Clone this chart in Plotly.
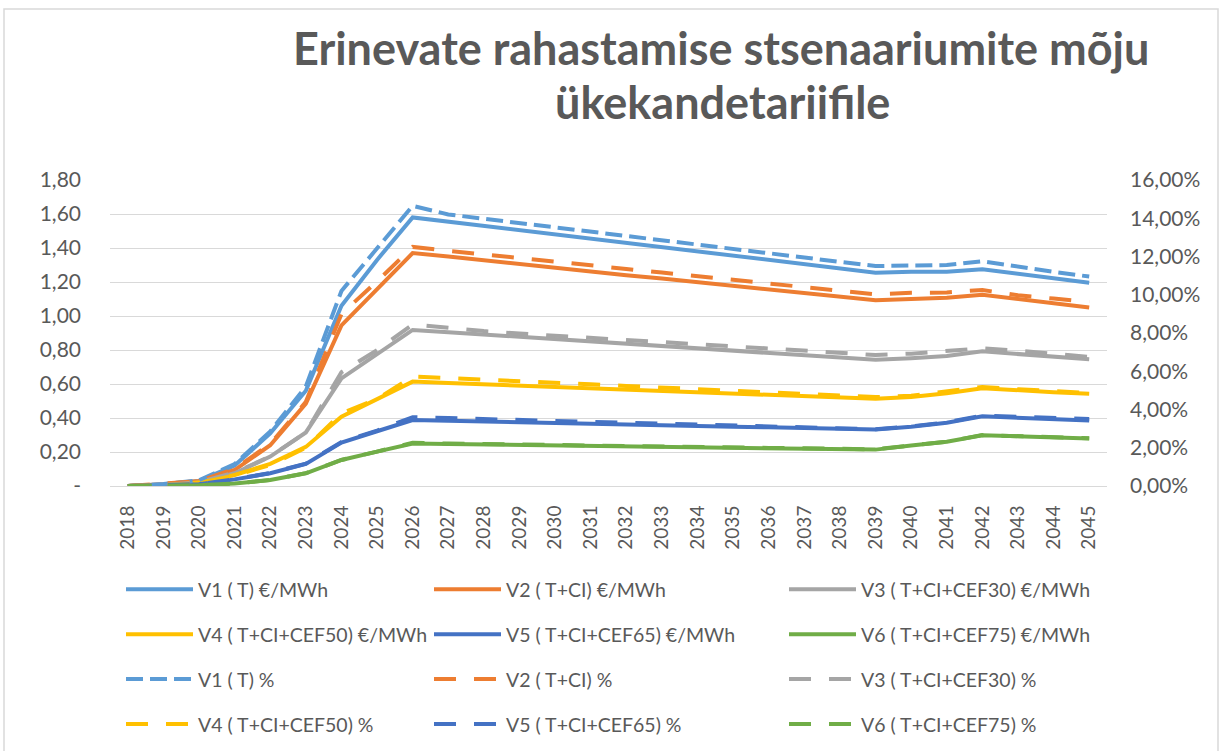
import plotly.graph_objects as go

years = [str(y) for y in range(2018, 2046)]

v1_eur = [0.00, 0.01, 0.03, 0.12, 0.31, 0.56, 1.06, 1.33, 1.58, 1.555, 1.53, 1.50, 1.48, 1.455,
          1.43, 1.40, 1.375, 1.35, 1.325, 1.30, 1.275, 1.255, 1.26, 1.26, 1.275, 1.25, 1.225, 1.195]
v2_eur = [0.00, 0.01, 0.03, 0.094, 0.24, 0.485, 0.945, 1.155, 1.37, 1.35, 1.327, 1.305, 1.285, 1.263,
          1.24, 1.22, 1.198, 1.177, 1.155, 1.133, 1.112, 1.092, 1.10, 1.108, 1.125, 1.10, 1.075, 1.05]
v3_eur = [0.00, 0.005, 0.02, 0.075, 0.173, 0.315, 0.633, 0.775, 0.918, 0.905, 0.891, 0.878, 0.864, 0.851,
          0.837, 0.823, 0.81, 0.796, 0.783, 0.77, 0.756, 0.742, 0.752, 0.765, 0.792, 0.778, 0.762, 0.745]
v4_eur = [0.00, 0.005, 0.02, 0.065, 0.13, 0.23, 0.408, 0.51, 0.614, 0.606, 0.598, 0.591, 0.583, 0.575,
          0.568, 0.56, 0.552, 0.544, 0.536, 0.528, 0.521, 0.513, 0.523, 0.545, 0.575, 0.562, 0.552, 0.542]
v5_eur = [0.00, 0.003, 0.01, 0.039, 0.075, 0.13, 0.255, 0.322, 0.388, 0.384, 0.379, 0.375, 0.371, 0.367,
          0.362, 0.358, 0.353, 0.349, 0.345, 0.341, 0.336, 0.332, 0.348, 0.372, 0.41, 0.403, 0.393, 0.385]
v6_eur = [0.00, 0.002, 0.005, 0.015, 0.035, 0.075, 0.153, 0.202, 0.25, 0.247, 0.244, 0.241, 0.239, 0.236,
          0.233, 0.23, 0.227, 0.225, 0.222, 0.219, 0.216, 0.214, 0.238, 0.26, 0.298, 0.293, 0.287, 0.28]

v1_pct = [0.0, 0.1, 0.3, 1.15, 2.85, 5.2, 10.2, 12.4, 14.65, 14.2, 13.97, 13.75, 13.52, 13.3,
          13.07, 12.85, 12.62, 12.4, 12.17, 11.95, 11.72, 11.5, 11.55, 11.55, 11.75, 11.45, 11.2, 10.95]
v2_pct = [0.0, 0.1, 0.25, 0.9, 2.2, 4.4, 9.0, 10.7, 12.5, 12.3, 12.1, 11.92, 11.73, 11.54,
          11.35, 11.16, 10.97, 10.78, 10.59, 10.4, 10.21, 10.02, 10.1, 10.12, 10.25, 9.97, 9.8, 9.63]
v3_pct = [0.0, 0.05, 0.2, 0.7, 1.55, 2.8, 5.95, 7.1, 8.45, 8.25, 8.1, 7.97, 7.85, 7.74,
          7.63, 7.52, 7.41, 7.3, 7.19, 7.08, 6.96, 6.85, 6.92, 7.05, 7.2, 7.08, 6.9, 6.75]
v4_pct = [0.0, 0.04, 0.15, 0.55, 1.1, 2.0, 3.8, 4.55, 5.72, 5.65, 5.56, 5.48, 5.4, 5.32,
          5.23, 5.15, 5.07, 4.98, 4.9, 4.82, 4.73, 4.65, 4.72, 4.93, 5.18, 5.06, 4.98, 4.86]
v5_pct = [0.0, 0.03, 0.1, 0.35, 0.68, 1.17, 2.3, 2.9, 3.6, 3.55, 3.5, 3.46, 3.41, 3.37,
          3.32, 3.27, 3.23, 3.18, 3.13, 3.08, 3.02, 2.97, 3.12, 3.33, 3.68, 3.62, 3.56, 3.5]
v6_pct = [0.0, 0.02, 0.05, 0.13, 0.31, 0.67, 1.36, 1.8, 2.26, 2.22, 2.19, 2.16, 2.14, 2.11,
          2.09, 2.06, 2.04, 2.01, 1.99, 1.97, 1.94, 1.92, 2.12, 2.32, 2.66, 2.6, 2.56, 2.5]

eur_names = ["V1 ( T) €/MWh", "V2 ( T+CI) €/MWh", "V3 ( T+CI+CEF30) €/MWh",
             "V4 ( T+CI+CEF50) €/MWh", "V5 ( T+CI+CEF65) €/MWh", "V6 ( T+CI+CEF75) €/MWh"]
pct_names = ["V1 ( T) %", "V2 ( T+CI) %", "V3 ( T+CI+CEF30) %",
             "V4 ( T+CI+CEF50) %", "V5 ( T+CI+CEF65) %", "V6 ( T+CI+CEF75) %"]

title_lines = ["Erinevate rahastamise stsenaariumite mõju", "ükekandetariifile"]

left_ticks = [0, 0.2, 0.4, 0.6, 0.8, 1.0, 1.2, 1.4, 1.6, 1.8]
left_ticktext = ["-", "0,20", "0,40", "0,60", "0,80", "1,00", "1,20", "1,40", "1,60", "1,80"]
right_ticks = [0, 2, 4, 6, 8, 10, 12, 14, 16]
right_ticktext = ["0,00%", "2,00%", "4,00%", "6,00%", "8,00%", "10,00%", "12,00%", "14,00%", "16,00%"]

colors = ["#5B9BD5", "#ED7D31", "#A5A5A5", "#FFC000", "#4472C4", "#70AD47"]
pct_dash = ["17px,7px", "22px,18px", "22px,18px", "22px,18px", "22px,18px", "22px,18px"]
legend_of = ["legend", "legend2", "legend3", "legend", "legend2", "legend3"]

FONT = "Lato, 'Open Sans', sans-serif"
TXT = "#595959"

# plot-area geometry (pixels)
W, H = 1221, 751
L, R, T, B = 110, 1107, 180, 486


def px_x(p):
    return (p - L) / (R - L)


def px_y(p):
    return (B - p) / (B - T)


fig = go.Figure()
eur_series = [v1_eur, v2_eur, v3_eur, v4_eur, v5_eur, v6_eur]
pct_series = [v1_pct, v2_pct, v3_pct, v4_pct, v5_pct, v6_pct]

for i in range(6):
    fig.add_trace(go.Scatter(
        x=years, y=eur_series[i], name=eur_names[i], mode="lines",
        line=dict(color=colors[i], width=4),
        legend=legend_of[i], legendgroup="e%d" % i, yaxis="y"))
for i in range(6):
    fig.add_trace(go.Scatter(
        x=years, y=pct_series[i], name=pct_names[i], mode="lines",
        line=dict(color=colors[i], width=4, dash=pct_dash[i]),
        legend=legend_of[i], legendgroup="p%d" % i, yaxis="y2"))

leg_common = dict(
    orientation="v", yanchor="top", xanchor="left",
    font=dict(family=FONT, size=19.5, color=TXT),
    bgcolor="rgba(0,0,0,0)", itemwidth=67, tracegroupgap=16.6,
    itemclick=False, itemdoubleclick=False,
)
leg_y = px_y(570)

fig.update_layout(
    width=W, height=H,
    margin=dict(l=L, r=W - R, t=T, b=H - B, autoexpand=False),
    paper_bgcolor="white", plot_bgcolor="white",
    showlegend=True,
    xaxis=dict(
        type="category", range=[-0.5, 27.5],
        tickangle=-90, tickfont=dict(family=FONT, size=19, color=TXT),
        showgrid=False, showline=True, linecolor="#D9D9D9", linewidth=1,
        ticks="", ticklabelstandoff=11,
    ),
    yaxis=dict(
        range=[0, 1.8], tickvals=left_ticks, ticktext=left_ticktext,
        tickfont=dict(family=FONT, size=21, color=TXT),
        showgrid=True, gridcolor="#D9D9D9", gridwidth=1,
        zeroline=False, showline=False, ticks="", ticklabelstandoff=28,
    ),
    yaxis2=dict(
        range=[0, 16], tickvals=right_ticks, ticktext=right_ticktext,
        overlaying="y", side="right",
        tickfont=dict(family=FONT, size=21, color=TXT),
        showgrid=False, zeroline=False, showline=False, ticks="", ticklabelstandoff=22,
    ),
    legend=dict(x=px_x(121), y=leg_y, **leg_common),
    legend2=dict(x=px_x(429), y=leg_y, **leg_common),
    legend3=dict(x=px_x(784), y=leg_y, **leg_common),
    annotations=[
        dict(text="<b>%s</b>" % title_lines[0], xref="paper", yref="paper",
             x=px_x(721), y=px_y(48), xanchor="center", yanchor="middle", showarrow=False,
             font=dict(family=FONT, size=45, color=TXT)),
        dict(text="<b>%s</b>" % title_lines[1], xref="paper", yref="paper",
             x=px_x(722), y=px_y(102), xanchor="center", yanchor="middle", showarrow=False,
             font=dict(family=FONT, size=45, color=TXT)),
    ],
    shapes=[dict(
        type="rect", xref="paper", yref="paper",
        x0=px_x(4), x1=px_x(1218), y0=px_y(800), y1=px_y(9),
        line=dict(color="#D9D9D9", width=1.5), fillcolor="rgba(0,0,0,0)", layer="below",
    )],
)

fig.write_html("out.html", config={"displayModeBar": False},
               post_script="document.body.style.margin='0px';")
